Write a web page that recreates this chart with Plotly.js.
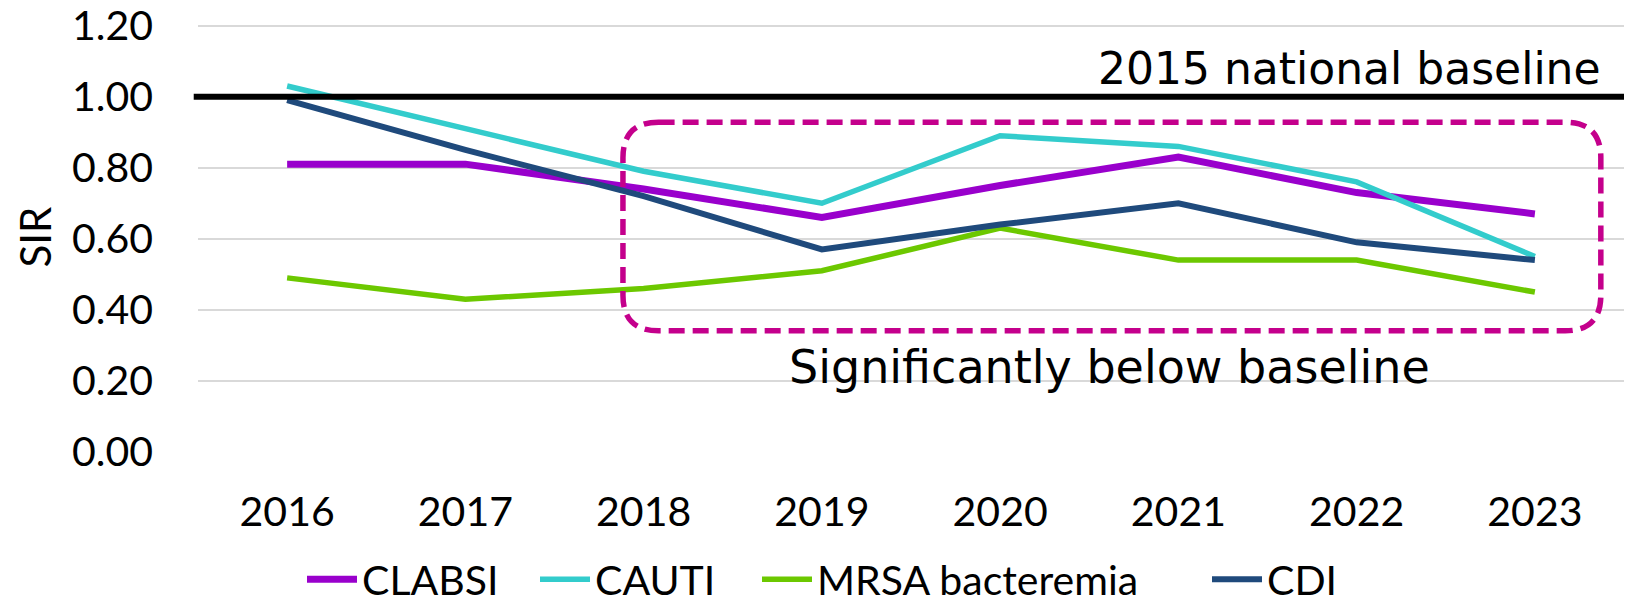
<!DOCTYPE html>
<html>
<head>
<meta charset="utf-8">
<script src="https://cdn.plot.ly/plotly-3.0.1.min.js"></script>
<style>
  html, body { margin: 0; padding: 0; background: #fff; }
  #chart { width: 1637px; height: 613px; }
</style>
</head>
<body>
<div id="chart"></div>
<script>
const years = ["2016", "2017", "2018", "2019", "2020", "2021", "2022", "2023"];
const clabsi = [0.81, 0.81, 0.74, 0.66, 0.75, 0.83, 0.73, 0.67];
const cauti  = [1.03, 0.91, 0.79, 0.70, 0.89, 0.86, 0.76, 0.55];
const mrsa   = [0.49, 0.43, 0.46, 0.51, 0.63, 0.54, 0.54, 0.45];
const cdi    = [0.99, 0.85, 0.72, 0.57, 0.64, 0.70, 0.59, 0.54];
const yTicks = [0, 0.2, 0.4, 0.6, 0.8, 1.0, 1.2];
const yTickText = ["0.00", "0.20", "0.40", "0.60", "0.80", "1.00", "1.20"];
const baselineValue = 1.0;

const FONT = "Lato, 'Open Sans', sans-serif";
const NOTE_FONT = "'DejaVu Sans', 'Open Sans', sans-serif";
const W = 1637;

function tr(name, y, color, width, legendId) {
  return {
    type: "scatter", mode: "lines", name: name, x: years, y: y,
    line: { color: color, width: width },
    legend: legendId,
    hoverinfo: "x+y+name"
  };
}

const data = [
  tr("CLABSI", clabsi, "#9900CC", 7, "legend"),
  tr("CAUTI", cauti, "#33CCCC", 5.5, "legend2"),
  tr("MRSA bacteremia", mrsa, "#6CC800", 5.5, "legend3"),
  tr("CDI", cdi, "#1F4A7C", 6, "legend4")
];

// rounded dashed box (data coordinates)
const bx0 = 1.884, bx1 = 7.37, by0 = 0.341, by1 = 0.928, rx = 0.2, ry = 0.1;
const boxPath =
  `M ${bx0 + rx},${by1} L ${bx1 - rx},${by1} Q ${bx1},${by1} ${bx1},${by1 - ry} ` +
  `L ${bx1},${by0 + ry} Q ${bx1},${by0} ${bx1 - rx},${by0} ` +
  `L ${bx0 + rx},${by0} Q ${bx0},${by0} ${bx0},${by0 + ry} ` +
  `L ${bx0},${by1 - ry} Q ${bx0},${by1} ${bx0 + rx},${by1} Z`;

function leg(px) {
  return {
    orientation: "h", xref: "container", x: px / W, xanchor: "left",
    yref: "container", y: 0, yanchor: "bottom",
    itemwidth: 50,
    font: { family: FONT, size: 41, color: "#000" },
    bgcolor: "rgba(0,0,0,0)", borderwidth: 0
  };
}

const layout = {
  width: 1637, height: 613,
  paper_bgcolor: "#ffffff", plot_bgcolor: "#ffffff",
  margin: { l: 198, r: 13, t: 22, b: 161, autoexpand: false },
  font: { family: FONT, color: "#000000", size: 40 },
  xaxis: {
    type: "category", range: [-0.5, 7.5], automargin: false,
    showgrid: false, zeroline: false, showline: false, ticks: "",
    tickangle: 0,
    tickfont: { family: FONT, size: 41, color: "#000" },
    ticklabelstandoff: 32
  },
  yaxis: {
    range: [0, 1.21], tickvals: yTicks, ticktext: yTickText, automargin: false,
    showgrid: true, gridcolor: "#d9d9d9", gridwidth: 2,
    zeroline: false, showline: false, ticks: "",
    tickfont: { family: FONT, size: 41, color: "#000" },
    ticklabelstandoff: 44, ticklabeloverflow: "allow",
    title: { text: "SIR", font: { family: FONT, size: 42, color: "#000" }, standoff: 7 }
  },
  showlegend: true,
  legend: leg(302),
  legend2: leg(535),
  legend3: leg(757),
  legend4: leg(1207),
  shapes: [
    {
      type: "line", xref: "paper", yref: "y",
      x0: -0.003, x1: 1, y0: baselineValue, y1: baselineValue,
      line: { color: "#000000", width: 6 }, layer: "above"
    },
    {
      type: "path", xref: "x", yref: "y", path: boxPath,
      line: { color: "#C4008C", width: 5.5, dash: "16px,8px" },
      fillcolor: "rgba(0,0,0,0)", layer: "above"
    }
  ],
  annotations: [
    {
      text: "2015 national baseline", xref: "paper", yref: "y",
      x: 0.985, y: 1.08, xanchor: "right", yanchor: "middle",
      showarrow: false, font: { family: NOTE_FONT, size: 44, color: "#000" }
    },
    {
      text: "Significantly below baseline", xref: "paper", yref: "y",
      x: 0.639, y: 0.24, xanchor: "center", yanchor: "middle",
      showarrow: false, font: { family: NOTE_FONT, size: 46, color: "#000" }
    }
  ]
};

Plotly.newPlot("chart", data, layout, { displayModeBar: false, responsive: false });
</script>
</body>
</html>
